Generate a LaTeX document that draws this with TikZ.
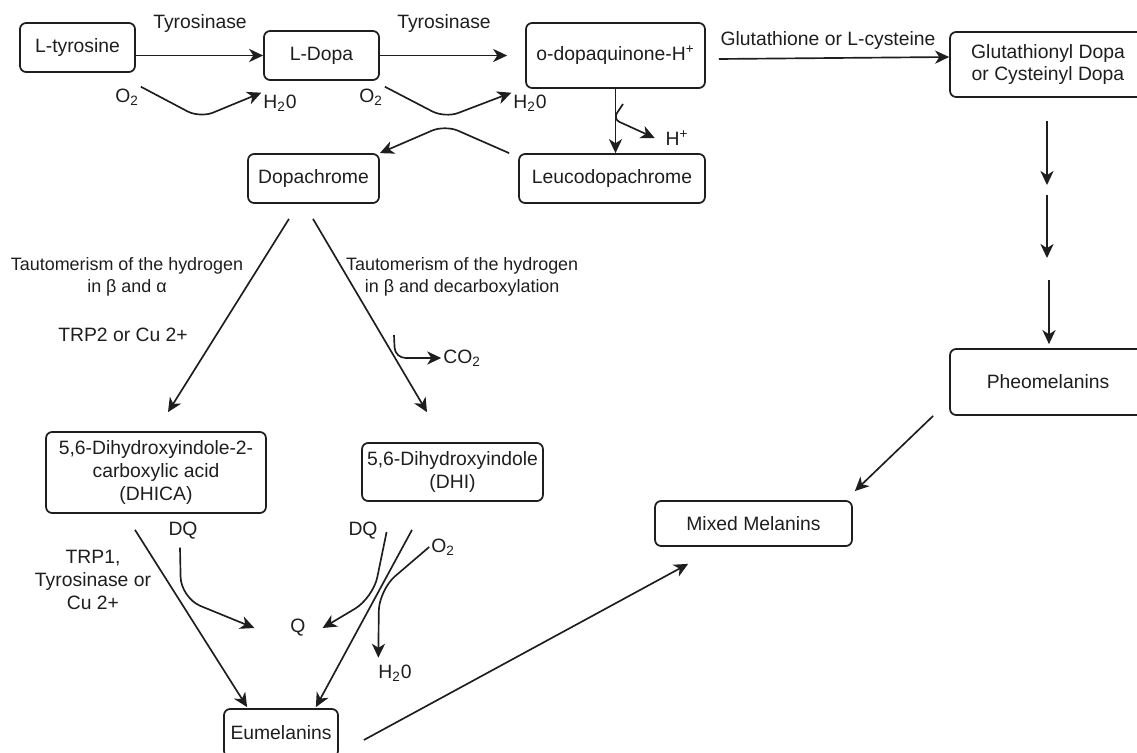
\documentclass[tikz,border=0pt]{standalone}
\usepackage{fontspec}
\setmainfont{Liberation Sans}
\usetikzlibrary{arrows.meta}
\definecolor{ink}{RGB}{30,30,30}
\tikzstyle{box}=[draw, rounded corners=3.5pt, line width=1pt, align=center, inner sep=0pt]
\tikzstyle{rxn}=[-{Stealth[length=8pt,width=7.5pt,inset=2.4pt]}, line width=.95pt]
\tikzstyle{lbl}=[inner sep=1pt, align=center]
\tikzstyle{small}=[font=\fontsize{10.2}{12.5}\selectfont]

\begin{document}
\begin{tikzpicture}[x=.02cm, y=-.02cm, font=\fontsize{11}{13}\selectfont, color=ink]
  \useasboundingbox (0,0) rectangle (1137,753);
  %% Compounds
  \draw (77.5,47.5) node[box, minimum width=2.3cm, minimum height=.98cm] (tyro) {L-tyrosine};
  \draw (321.5,55.5) node[box, minimum width=2.3cm, minimum height=.98cm] (dopa) {L-Dopa};
  \draw (615.5,55.5) node[box, minimum width=3.58cm, minimum height=1.3cm] (dopaq) {o-dopaquinone-H\textsuperscript{+}};
  \draw (1048,64.5) node[box, minimum width=3.92cm, minimum height=1.3cm] (glut) {Glutathionyl Dopa\\or Cysteinyl Dopa};
  \draw (313.5,178.5) node[box, minimum width=2.62cm, minimum height=.98cm] (dopachrome) {Dopachrome};
  \draw (612,178.5) node[box, minimum width=3.72cm, minimum height=.98cm] (leuco) {Leucodopachrome};
  \draw (156,472.5) node[box, minimum width=4.4cm, minimum height=1.62cm] (dhica) {5,6-Dihydroxyindole-2-\\carboxylic acid\\(DHICA)};
  \draw (452.5,472) node[box, minimum width=3.62cm, minimum height=1.16cm] (dhi) {5,6-Dihydroxyindole\\(DHI)};
  \draw (1048,382) node[box, minimum width=3.92cm, minimum height=1.32cm] (pheo) {Pheomelanins};
  \draw (753.5,523.5) node[box, minimum width=3.94cm, minimum height=.9cm] (mixed) {Mixed Melanins};
  \draw (281,733) node[box, minimum width=2.28cm, minimum height=.96cm] (eumel) {Eumelanins};

  %% Labels
  \draw (200,24) node[lbl] (tyrA) {Tyrosinase};
  \draw (444,24) node[lbl] (tyrB) {Tyrosinase};
  \draw (127,97) node[lbl] (o2a) {O\textsubscript{2}};
  \draw (280,103) node[lbl] (h2oa) {H\textsubscript{2}0};
  \draw (371,97) node[lbl] (o2b) {O\textsubscript{2}};
  \draw (530,103) node[lbl] (h2ob) {H\textsubscript{2}0};
  \draw (677,138) node[lbl] (hp) {H\textsuperscript{+}};
  \draw (828,41) node[lbl] (glutlbl) {Glutathione or L-cysteine};
  \draw (127,277) node[lbl, small] (tautA) {Tautomerism of the hydrogen\\in β and α};
  \draw (344,277) node[lbl, small, anchor=west] (tautB) {Tautomerism of the hydrogen\\in β and decarboxylation};
  \draw (123,335) node[lbl] (trp2) {TRP2 or Cu 2+};
  \draw (462,358) node[lbl] (co2) {CO\textsubscript{2}};
  \draw (93,580) node[lbl] (trp1) {TRP1,\\Tyrosinase or\\Cu 2+};
  \draw (183,531) node[lbl] (dqA) {DQ};
  \draw (363,531) node[lbl] (dqB) {DQ};
  \draw (298,628) node[lbl] (q) {Q};
  \draw (443,547) node[lbl] (o2c) {O\textsubscript{2}};
  \draw (395,673) node[lbl] (h2oc) {H\textsubscript{2}0};

  %% Free ends
  \coordinate (hpstart) at (623,104);
  \coordinate (co2start) at (394,335);
  \coordinate (gA) at (1047,185);
  \coordinate (gB) at (1047,195);
  \coordinate (gC) at (1047,258);
  \coordinate (gD) at (1049,280);

  %% Main chain
  \draw[rxn] (tyro.east |- dopa) -- (dopa);
  \draw[rxn, shorten >=.36cm] (dopa) -- (dopa -| dopaq.west);
  \draw[rxn] ([shift={(13,3.5)}]dopaq.east) -- ([shift={(0,-7.5)}]glut.west);
  \draw[rxn, rounded corners=8pt] (o2a.north east) -- (200,118) -- (h2oa.north west);
  \draw[rxn, rounded corners=8pt] (o2b.north east) -- (445,118) -- (h2ob.north west);
  \draw[rxn, rounded corners=8pt] ([xshift=-.18cm]leuco.north west) -- (445,125) -- (dopachrome.north east);
  \draw[rxn] (dopaq.south) -- (dopaq.south |- leuco.north);
  \draw[rxn, rounded corners=4pt] (hpstart) -- (613,119) -- ([xshift=-5pt]hp.west);

  %% Dopachrome branches
  \draw[rxn] ([shift={(-24.5,15)}]dopachrome.south) -- ([shift={(12,-19)}]dhica.north);
  \draw[rxn] ([shift={(-0.5,15)}]dopachrome.south) -- ([shift={(-25.5,-30)}]dhi.north);
  \draw[rxn, rounded corners=6pt] (co2start) -- (395,358) -- (co2.west);

  %% Towards eumelanins
  \draw[rxn] ([shift={(-21,16)}]dhica.south) -- ([shift={(24,-1)}]eumel.north west);
  \draw[rxn] ([shift={(-40.5,28)}]dhi.south) -- ([shift={(-23,-1)}]eumel.north east);
  \draw[rxn, rounded corners=12pt] ([shift={(-3,6)}]dqA.south) -- (181,598) -- ([xshift=-.68cm]q.west);
  \draw[rxn, rounded corners=12pt] ([shift={(7,1)}]dqB.east) -- (373,598) -- ([xshift=.3cm]q.east);
  \draw[rxn, rounded corners=12pt] (o2c.west) -- (379,590) -- ([shift={(2,-5)}]h2oc.north west);

  %% Mixed melanins
  \draw[rxn] ([shift={(25,7)}]eumel.east) -- ([shift={(34,17)}]mixed.south west);
  \draw[rxn] ([shift={(-16,0)}]pheo.south west) -- ([shift={(2,-9)}]mixed.north east);

  %% Pheomelanin column
  \draw[rxn] ([shift={(-1,23)}]glut.south) -- (gA);
  \draw[rxn] (gB) -- (gC);
  \draw[rxn] (gD) -- ([shift={(1,-4)}]pheo.north);
\end{tikzpicture}
\end{document}
